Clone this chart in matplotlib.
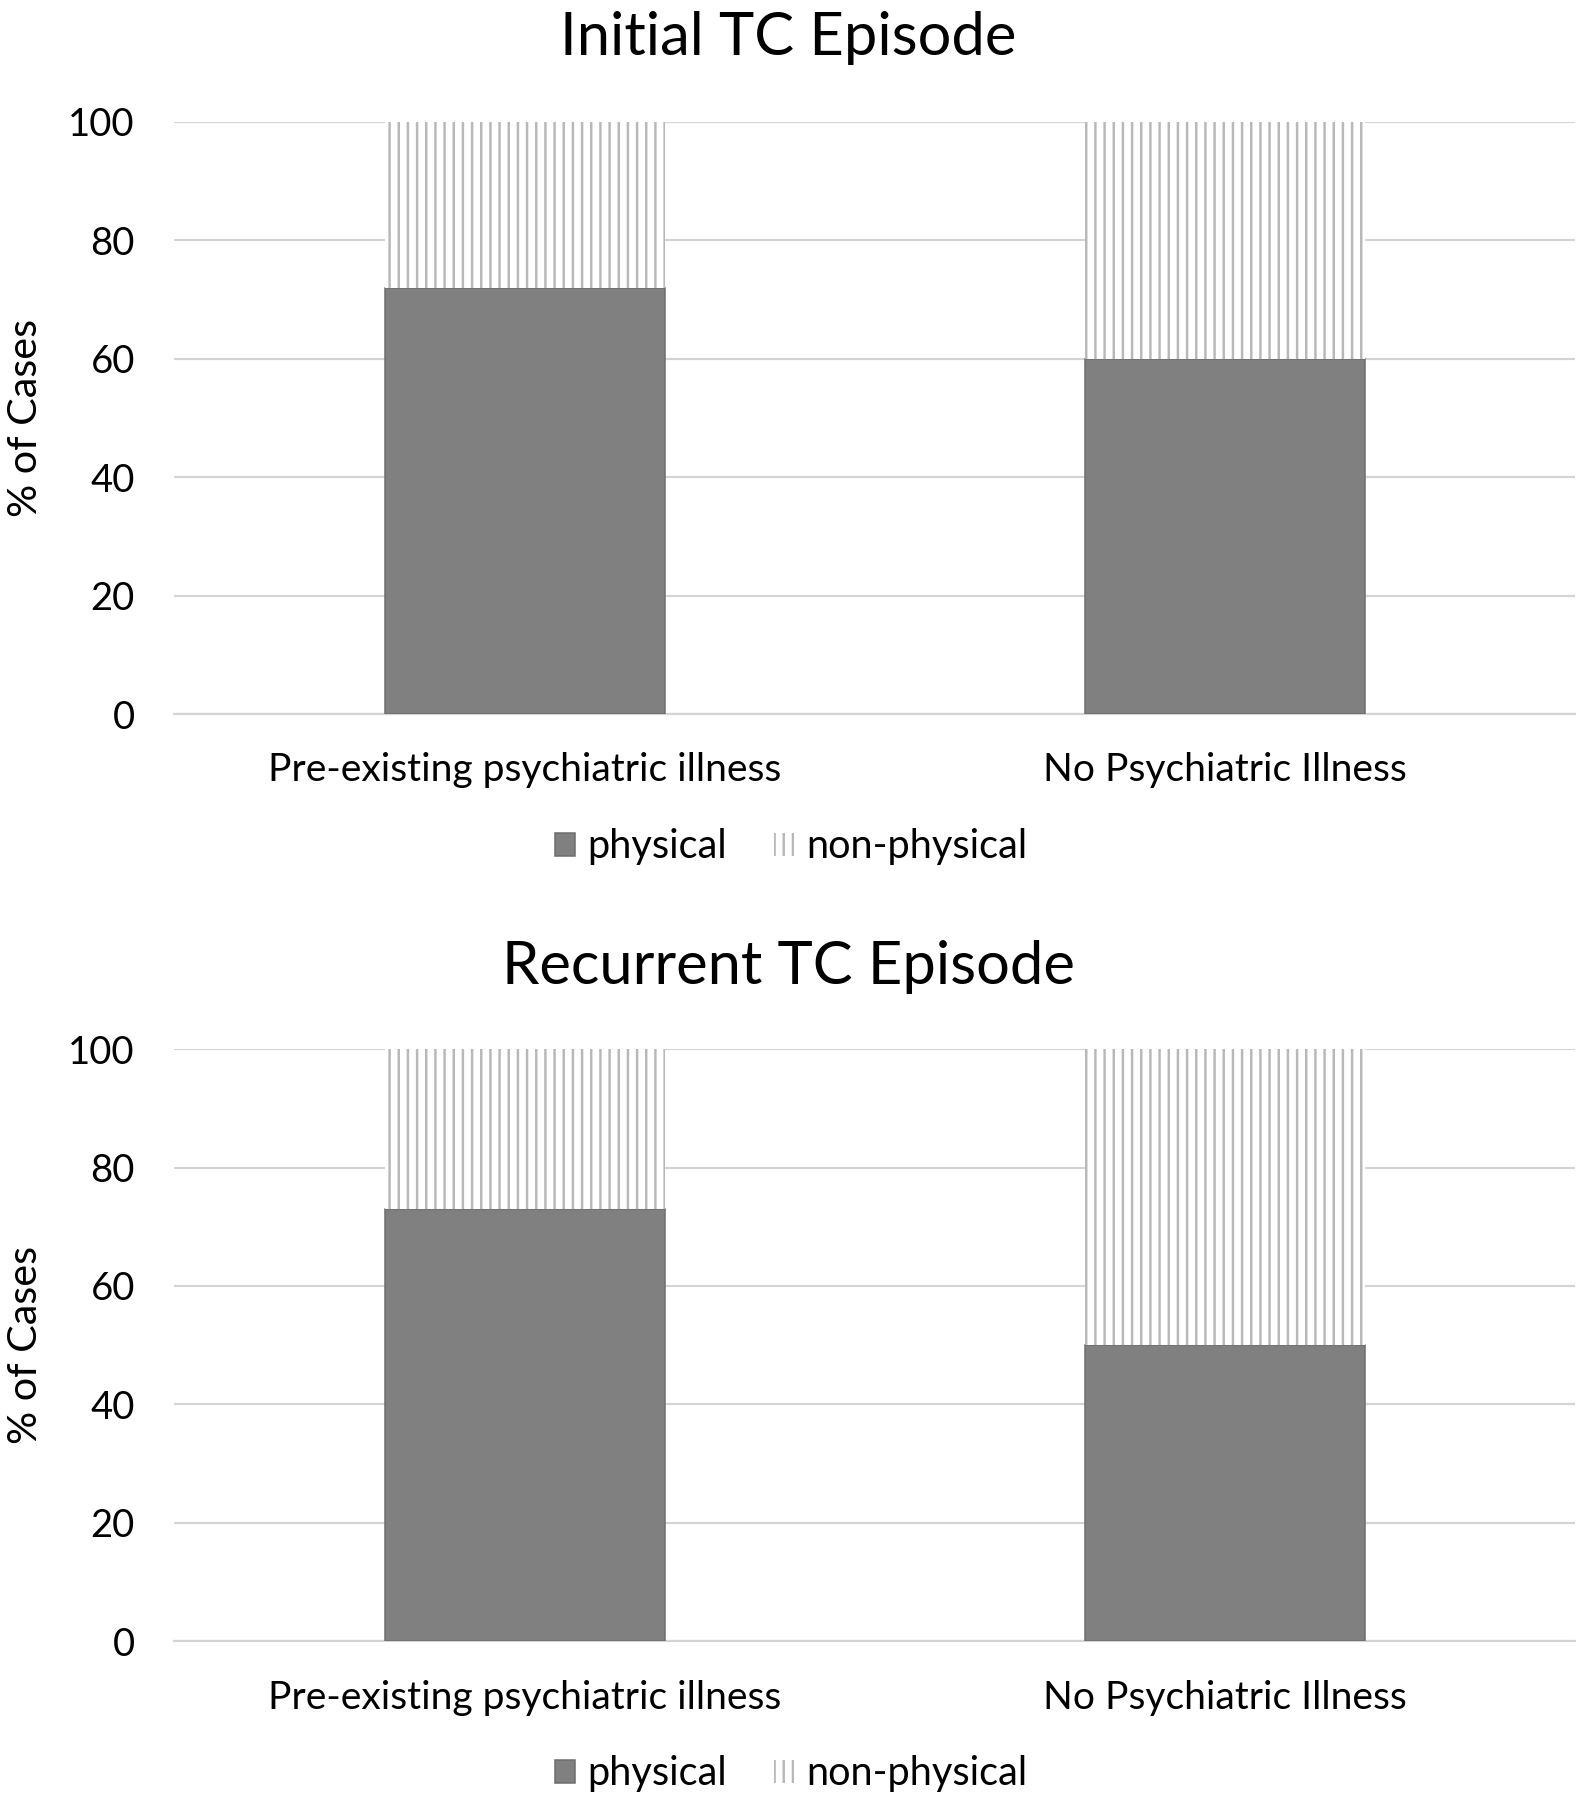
import matplotlib
matplotlib.use("Agg")
import matplotlib.pyplot as plt
from matplotlib.patches import Patch

plt.rcParams['font.family'] = ['Lato', 'DejaVu Sans']
plt.rcParams['hatch.linewidth'] = 1.6

categories = ["Pre-existing psychiatric illness", "No Psychiatric Illness"]
titles = ["Initial TC Episode", "Recurrent TC Episode"]
physical = [[72, 60], [73, 50]]
non_physical = [[28, 40], [27, 50]]
yticks = [0, 20, 40, 60, 80, 100]

DPI = 110
fig = plt.figure(figsize=(1592 / DPI, 1800 / DPI), dpi=DPI)

axes_rects = [[0.1096, 0.6033, 0.8797, 0.3291], [0.1096, 0.0881, 0.8797, 0.3291]]
title_y = [0.979, 0.463]
legend_y = [0.5295, 0.0145]

for i in range(2):
    ax = fig.add_axes(axes_rects[i])
    x = list(range(len(categories)))
    ax.bar(x, physical[i], width=0.40, color="#808080", edgecolor="#6e6e6e",
           linewidth=1.0, zorder=3)
    ax.bar(x, non_physical[i], width=0.40, bottom=physical[i], color="white",
           edgecolor="#b8b8b8", linewidth=0, hatch="||", zorder=3)
    ax.set_xlim(-0.5, 1.5)
    ax.set_ylim(0, 100)
    ax.set_yticks(yticks)
    ax.set_xticks(x)
    ax.set_xticklabels(categories, fontsize=25.5)
    ax.tick_params(axis='y', labelsize=25, length=0, pad=26)
    ax.tick_params(axis='x', length=0, pad=25)
    ax.grid(axis='y', color="#d4d4d4", linewidth=1.4, zorder=0)
    for s in ["top", "right", "left"]:
        ax.spines[s].set_visible(False)
    ax.spines["bottom"].set_color("#d4d4d4")
    ax.spines["bottom"].set_linewidth(1.4)
    ax.set_ylabel("% of Cases", fontsize=27)
    ax.yaxis.set_label_coords(-0.093, 0.5)
    fig.text(0.495, title_y[i], titles[i], fontsize=39, ha="center", va="center")
    handles = [Patch(facecolor="#808080", edgecolor="#6e6e6e", label="physical"),
               Patch(facecolor="white", edgecolor="#b8b8b8", linewidth=0, hatch="||",
                     label="non-physical")]
    fig.legend(handles=handles, loc="center", bbox_to_anchor=(0.497, legend_y[i]),
               ncol=2, frameon=False, fontsize=26, handlelength=0.5, handleheight=0.5,
               handletextpad=0.3, columnspacing=1.2)

fig.savefig("out.png", dpi=DPI)
